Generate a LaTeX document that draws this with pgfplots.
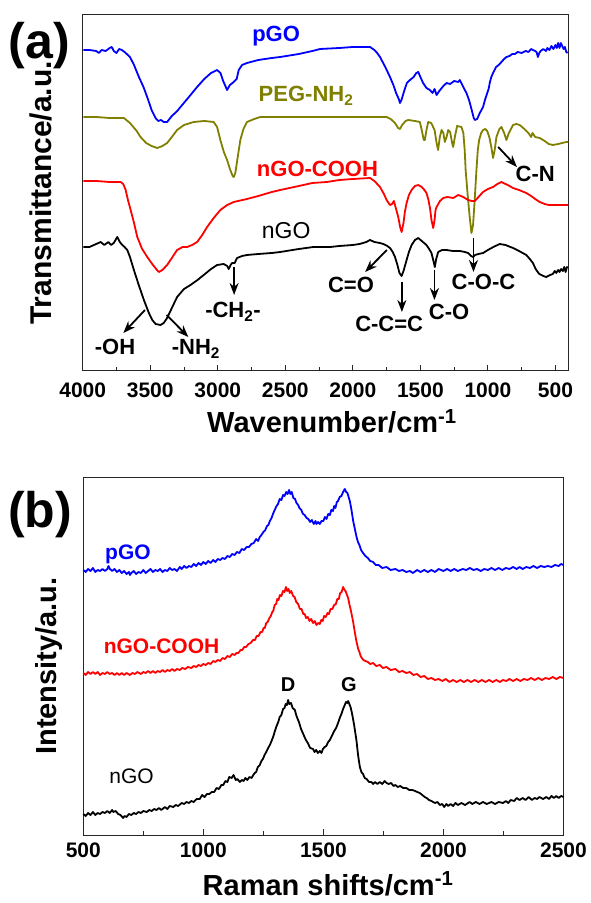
\documentclass[border=0pt]{standalone}
\usepackage{fontspec}
\setmainfont{Liberation Sans}
\usepackage{pgfplots}
\pgfplotsset{compat=1.18}
\usetikzlibrary{arrows.meta}
\definecolor{olv}{RGB}{128,128,0}
\definecolor{myblue}{RGB}{0,0,255}
\definecolor{myred}{RGB}{255,0,0}
\pgfplotsset{
  spec/.style={scale only axis, anchor=south west, ytick=\empty,
    tick align=inside, xtick pos=left, minor x tick num=1,
    major tick length=6pt, minor tick length=4pt,
    axis line style={line width=1pt, black!85},
    tick style={line width=1pt, black!85},
    /pgf/number format/assume math mode=true,
    /pgf/number format/1000 sep={}, scaled x ticks=false,
    clip=false},
  curve/.style={line width=1.8pt, no markers, line join=round}
}
\tikzset{lab/.style={font=\fontsize{22}{22}\selectfont\bfseries},
  arr/.style={line width=1.8pt, -{Stealth[length=12pt,width=9pt]}}}
\begin{document}
\begin{tikzpicture}
\path[use as bounding box] (0pt,0pt) rectangle (590pt,903pt);
% ---------------- top panel (FTIR) ----------------
\begin{axis}[spec, at={(82.7pt,532pt)}, width=485.6pt, height=356.3pt,
  x dir=reverse, xmin=405, xmax=4000, ymin=24, ymax=380.3,
  xtick={500,1000,...,4000},
  xticklabel style={font=\fontsize{21}{21}\selectfont\bfseries, anchor=base, yshift=-27pt}]
\addplot[curve, myblue] coordinates {
(3995,345)(3950,345)(3900,344)(3880,342)(3860,345)(3830,344)(3800,347)(3785,348)(3770,344)(3750,342)(3730,346)(3710,345)(3690,343)(3650,338)(3620,330)(3584,318)(3550,308)(3520,297)(3490,285)(3461,277)(3440,274)(3420,275)(3400,273)(3375,273)(3340,279)(3300,284)(3276,288)(3220,297)(3153,308)(3100,316)(3050,322)(3005,325)(2980,322)(2960,314)(2931,305)(2910,310)(2882,313)(2860,316)(2845,325)(2820,330)(2784,332)(2700,335)(2600,337)(2538,338)(2400,341)(2300,344)(2242,346)(2100,347)(2000,348)(1900,348)(1873,348)(1840,345)(1820,342)(1799,338)(1760,328)(1725,318)(1700,310)(1680,302)(1660,296)(1651,292)(1640,295)(1620,304)(1600,312)(1577,315)(1550,318)(1530,322)(1516,323)(1500,318)(1480,312)(1455,307)(1430,305)(1410,302)(1395,306)(1380,300)(1360,304)(1330,309)(1306,312)(1280,311)(1250,314)(1220,313)(1208,315)(1190,310)(1175,306)(1159,302)(1140,295)(1120,285)(1105,277)(1097,275)(1080,276)(1060,282)(1036,288)(1020,296)(1010,300)(995,306)(985,313)(975,318)(962,322)(940,328)(920,330)(900,333)(880,336)(863,338)(840,339)(820,341)(800,341)(780,343)(750,342)(720,344)(700,343)(680,346)(667,345)(650,344)(640,343)(630,338)(620,342)(610,344)(590,346)(570,344)(560,347)(545,345)(530,349)(515,346)(500,350)(490,347)(480,352)(470,347)(460,352)(450,349)(440,346)(430,348)(420,343)(410,342)};
\addplot[curve, olv] coordinates {
(3995,278)(3900,278)(3800,277)(3695,277)(3650,272)(3600,264)(3572,258)(3530,252)(3490,249)(3448,247)(3410,249)(3375,252)(3340,258)(3301,265)(3250,270)(3178,273)(3100,274)(3030,273)(3005,268)(2981,255)(2955,243)(2931,235)(2910,226)(2890,219)(2882,218)(2870,222)(2850,240)(2833,255)(2810,266)(2784,273)(2730,276)(2685,278)(2500,278)(2242,278)(2000,278)(1800,278)(1750,278)(1720,276)(1688,272)(1665,267)(1651,266)(1635,270)(1610,274)(1590,275)(1540,274)(1504,273)(1490,265)(1475,255)(1467,255)(1455,265)(1442,273)(1420,272)(1395,265)(1380,252)(1369,245)(1356,258)(1343,265)(1330,262)(1319,253)(1306,258)(1294,265)(1280,263)(1265,252)(1257,248)(1245,258)(1228,269)(1196,268)(1182,262)(1172,245)(1165,225)(1150,200)(1135,178)(1122,162)(1110,170)(1098,195)(1085,225)(1075,245)(1065,255)(1050,262)(1036,265)(1020,266)(1005,264)(990,258)(975,248)(962,237)(950,245)(937,258)(915,266)(900,268)(880,262)(863,255)(845,262)(814,270)(790,271)(765,270)(730,266)(700,262)(680,258)(670,262)(650,258)(617,257)(580,254)(550,251)(519,250)(480,251)(450,252)(420,253)(405,253)};
\addplot[curve, myred] coordinates {
(3995,214)(3900,214)(3800,213)(3719,213)(3700,211)(3682,205)(3665,195)(3645,185)(3620,172)(3596,158)(3560,146)(3522,138)(3480,130)(3450,125)(3436,123)(3410,125)(3375,130)(3340,137)(3301,145)(3260,148)(3227,148)(3190,150)(3153,153)(3115,160)(3079,168)(3030,177)(2981,185)(2930,190)(2882,193)(2784,196)(2700,199)(2600,203)(2538,205)(2400,209)(2300,212)(2193,213)(2100,215)(2000,216)(1873,217)(1840,214)(1799,208)(1770,201)(1750,195)(1725,190)(1710,191)(1696,194)(1680,186)(1664,178)(1650,168)(1639,163)(1625,172)(1615,183)(1602,192)(1585,200)(1565,205)(1540,209)(1516,210)(1490,208)(1470,205)(1455,202)(1440,195)(1428,186)(1418,175)(1405,167)(1395,175)(1388,185)(1380,188)(1355,194)(1331,197)(1300,198)(1257,197)(1220,200)(1200,199)(1183,198)(1147,195)(1120,194)(1097,194)(1070,198)(1036,203)(1000,206)(962,208)(930,211)(900,213)(870,211)(840,209)(814,207)(770,205)(716,202)(680,199)(650,196)(617,193)(580,191)(550,190)(519,190)(480,190)(440,190)(405,190)};
\addplot[curve, black] coordinates {
(3995,148)(3950,148)(3900,151)(3867,153)(3840,150)(3810,153)(3790,150)(3770,152)(3744,158)(3725,153)(3707,150)(3690,148)(3670,145)(3650,138)(3621,125)(3585,110)(3547,95)(3510,82)(3485,75)(3460,71)(3424,70)(3400,72)(3375,77)(3340,87)(3301,98)(3250,106)(3202,110)(3150,115)(3104,120)(3050,126)(3005,130)(2956,131)(2930,129)(2919,126)(2905,130)(2894,132)(2875,132)(2857,137)(2820,139)(2784,140)(2700,141)(2600,142)(2538,143)(2400,146)(2292,148)(2168,148)(2100,149)(2000,150)(1950,151)(1900,153)(1873,155)(1840,153)(1800,152)(1775,151)(1745,149)(1725,147)(1705,143)(1688,138)(1670,130)(1655,122)(1639,119)(1625,124)(1602,135)(1585,143)(1565,150)(1540,155)(1516,157)(1490,154)(1455,150)(1435,146)(1418,142)(1405,135)(1393,128)(1383,136)(1368,143)(1340,145)(1306,145)(1260,144)(1208,144)(1170,143)(1147,142)(1125,139)(1110,138)(1095,140)(1070,141)(1036,142)(1000,145)(960,148)(913,151)(870,150)(814,147)(770,144)(716,140)(690,136)(667,132)(650,127)(642,125)(620,121)(590,119)(568,118)(540,120)(520,121)(505,124)(494,122)(480,125)(470,123)(458,126)(445,124)(435,128)(425,123)(415,128)(408,127)};
% labels
\node[lab, myblue, anchor=base] at (axis cs:2568,353) {pGO};
\node[lab, olv, anchor=base west] at (axis cs:2723,293.3) {PEG-NH\textsubscript{2}};
\node[lab, myred, anchor=base west] at (axis cs:2736,218.3) {nGO-COOH};
\node[font=\fontsize{23}{23}\selectfont, anchor=base] at (axis cs:2494,156) {nGO};
% annotations
\node[lab, anchor=base] at (axis cs:650,213.3) {C-N};
\draw[arr] (axis cs:924,248) -- (axis cs:785,228);
\node[lab, anchor=base] at (axis cs:2014,102) {C=O};
\draw[arr] (axis cs:1748,145) -- (axis cs:1909,123);
\node[lab, anchor=base] at (axis cs:1731,63.3) {C-C=C};
\draw[arr] (axis cs:1637,113) -- (axis cs:1637,83);
\node[lab, anchor=base] at (axis cs:1287,75) {C-O};
\draw[arr] (axis cs:1396,125) -- (axis cs:1396,95);
\node[lab, anchor=base] at (axis cs:1033,105) {C-O-C};
\draw[arr] (axis cs:1107,157) -- (axis cs:1107,123);
\node[lab, anchor=base] at (axis cs:2887,77) {-CH\textsubscript{2}-};
\draw[arr] (axis cs:2879,128) -- (axis cs:2879,100);
\node[lab, anchor=base] at (axis cs:3761,40) {-OH};
\draw[arr] (axis cs:3539,85) -- (axis cs:3699,62);
\node[lab, anchor=base west] at (axis cs:3366,40) {-NH\textsubscript{2}};
\draw[arr] (axis cs:3378,80) -- (axis cs:3218,58);
\end{axis}
% ---------------- bottom panel (Raman) ----------------
\begin{axis}[spec, at={(83.3pt,68pt)}, width=480.2pt, height=357.7pt,
  xmin=500, xmax=2500, ymin=0, ymax=357.7,
  xtick={500,1000,1500,2000,2500},
  xticklabel style={font=\fontsize{21}{21}\selectfont\bfseries, anchor=base, yshift=-22pt}]
\addplot[curve, myblue] coordinates {
(500,265)(510,263)(520,266)(530,264)(540,267)(550,263)(560,265)(570,264)(580,266)(590,264)(600,266)(605,269)(611,266)(620,264)(630,266)(640,263)(650,265)(660,262)(670,264)(680,261)(690,263)(694,260)(700,262)(710,264)(720,261)(730,263)(740,262)(750,265)(760,262)(770,264)(780,266)(790,263)(800,265)(810,264)(820,266)(830,263)(840,265)(850,264)(860,267)(870,265)(880,266)(890,264)(902,268)(910,266)(920,269)(930,267)(940,269)(950,268)(960,271)(970,269)(980,272)(990,270)(1000,273)(1010,271)(1020,274)(1030,272)(1041,275)(1050,273)(1060,276)(1070,275)(1080,277)(1090,276)(1100,279)(1110,278)(1120,281)(1130,280)(1140,283)(1150,282)(1160,286)(1170,285)(1180,288)(1190,288)(1200,291)(1210,292)(1220,296)(1228,294)(1235,298)(1242,300)(1250,303)(1258,305)(1265,309)(1271,310)(1277,314)(1284,317)(1290,321)(1297,325)(1305,329)(1311,331)(1318,336)(1325,335)(1332,340)(1338,339)(1345,343)(1351,341)(1357,345)(1362,341)(1368,343)(1375,337)(1382,336)(1388,332)(1395,330)(1400,327)(1408,325)(1415,321)(1422,320)(1430,317)(1437,316)(1445,313)(1452,315)(1460,311)(1467,314)(1471,311)(1478,313)(1485,311)(1492,314)(1500,314)(1506,318)(1513,316)(1520,321)(1527,320)(1533,325)(1540,324)(1545,329)(1550,327)(1556,333)(1561,334)(1568,338)(1575,339)(1582,343)(1589,346)(1595,343)(1600,342)(1605,338)(1610,334)(1617,325)(1624,314)(1632,305)(1638,298)(1644,293)(1650,290)(1657,285)(1665,282)(1675,279)(1685,277)(1695,274)(1707,273)(1718,270)(1730,270)(1745,267)(1763,268)(1780,265)(1800,266)(1815,264)(1830,265)(1845,263)(1860,264)(1873,262)(1890,265)(1905,263)(1920,265)(1935,263)(1950,265)(1965,263)(1980,266)(2000,264)(2015,266)(2030,264)(2045,266)(2060,264)(2080,266)(2095,265)(2110,267)(2125,265)(2140,266)(2155,264)(2170,266)(2185,265)(2200,267)(2215,265)(2230,267)(2245,265)(2260,267)(2275,266)(2290,268)(2305,266)(2317,268)(2330,266)(2345,268)(2360,267)(2375,269)(2390,267)(2405,269)(2420,268)(2435,269)(2450,268)(2465,270)(2480,269)(2490,271)(2500,270)};
\addplot[curve, myred] coordinates {
(500,162)(510,160)(520,163)(530,161)(540,163)(550,161)(560,163)(570,160)(580,162)(590,161)(600,163)(610,161)(620,162)(630,160)(640,162)(650,160)(660,162)(670,160)(680,162)(694,160)(705,162)(715,161)(725,163)(740,161)(750,163)(760,162)(770,164)(780,162)(790,164)(800,162)(810,164)(820,163)(830,165)(840,163)(850,165)(860,164)(870,166)(880,164)(890,166)(902,165)(912,167)(925,166)(935,168)(950,167)(960,169)(970,168)(980,170)(990,169)(1000,171)(1010,170)(1020,172)(1030,171)(1041,174)(1050,173)(1060,175)(1070,174)(1080,177)(1090,176)(1100,179)(1110,178)(1120,181)(1130,180)(1138,182)(1146,182)(1155,185)(1162,185)(1170,188)(1178,188)(1188,191)(1197,192)(1207,195)(1215,195)(1222,199)(1230,199)(1238,203)(1245,203)(1251,207)(1256,207)(1262,212)(1268,213)(1275,217)(1281,219)(1287,223)(1291,224)(1297,230)(1303,231)(1308,236)(1313,235)(1319,240)(1325,239)(1332,244)(1338,243)(1344,248)(1349,244)(1355,246)(1360,242)(1366,244)(1374,239)(1380,238)(1387,233)(1395,231)(1402,226)(1409,226)(1416,221)(1422,221)(1428,217)(1435,218)(1442,214)(1449,216)(1457,212)(1464,214)(1471,210)(1478,212)(1485,211)(1491,215)(1497,214)(1503,219)(1510,218)(1517,222)(1523,221)(1530,226)(1537,226)(1545,230)(1552,231)(1558,236)(1564,236)(1570,242)(1576,243)(1582,248)(1588,245)(1592,244)(1597,241)(1603,237)(1609,230)(1614,225)(1619,219)(1624,213)(1630,204)(1635,197)(1640,191)(1645,186)(1650,183)(1655,179)(1660,177)(1667,175)(1675,174)(1685,173)(1695,171)(1707,172)(1720,169)(1735,170)(1748,167)(1763,168)(1780,165)(1800,166)(1815,163)(1830,164)(1845,162)(1860,163)(1875,160)(1890,161)(1905,158)(1920,159)(1935,156)(1950,157)(1965,155)(1980,156)(1995,154)(2010,156)(2025,153)(2040,155)(2055,153)(2070,155)(2085,153)(2100,155)(2115,153)(2130,155)(2145,153)(2160,155)(2175,153)(2190,155)(2205,153)(2220,155)(2235,153)(2248,155)(2262,154)(2275,156)(2290,154)(2305,156)(2320,154)(2335,156)(2350,155)(2365,157)(2380,155)(2395,157)(2410,155)(2425,157)(2440,156)(2455,158)(2470,156)(2485,158)(2500,157)};
\addplot[curve, black] coordinates {
(500,21)(510,19)(520,22)(530,20)(540,23)(550,20)(560,22)(570,21)(580,23)(590,22)(600,24)(610,22)(620,25)(625,23)(635,24)(645,21)(655,20)(666,17)(672,19)(680,18)(690,21)(700,20)(710,22)(720,21)(730,23)(740,22)(750,24)(764,23)(775,25)(785,24)(795,26)(805,25)(815,27)(825,25)(840,28)(850,26)(860,29)(875,28)(885,30)(895,29)(910,32)(920,31)(930,33)(940,32)(950,34)(960,33)(972,36)(985,36)(995,40)(1005,38)(1015,41)(1025,41)(1035,43)(1045,43)(1055,47)(1065,46)(1075,50)(1083,50)(1092,54)(1100,53)(1108,58)(1118,57)(1126,60)(1135,55)(1142,56)(1152,53)(1160,55)(1168,54)(1175,57)(1183,55)(1192,58)(1201,57)(1208,60)(1214,62)(1220,63)(1227,68)(1235,70)(1242,74)(1248,76)(1255,80)(1262,83)(1270,87)(1277,90)(1284,94)(1292,99)(1298,104)(1305,109)(1312,113)(1318,118)(1325,120)(1332,126)(1338,127)(1343,131)(1348,130)(1353,135)(1358,131)(1365,132)(1372,127)(1381,125)(1388,119)(1398,113)(1407,106)(1416,101)(1425,96)(1435,92)(1445,87)(1457,86)(1463,83)(1470,85)(1477,82)(1485,84)(1492,82)(1498,86)(1505,88)(1512,89)(1520,93)(1527,95)(1535,99)(1545,104)(1553,107)(1561,112)(1568,117)(1575,121)(1582,126)(1589,130)(1594,133)(1599,132)(1603,134)(1608,131)(1613,128)(1617,124)(1622,118)(1628,110)(1633,102)(1638,94)(1642,85)(1645,79)(1648,74)(1652,68)(1658,63)(1665,61)(1672,57)(1680,56)(1690,53)(1700,53)(1707,51)(1715,53)(1725,51)(1735,53)(1745,51)(1755,54)(1763,52)(1772,51)(1782,52)(1792,49)(1800,50)(1810,48)(1820,49)(1832,47)(1845,47)(1858,45)(1870,45)(1882,44)(1891,43)(1901,42)(1912,40)(1922,38)(1930,37)(1940,35)(1950,34)(1957,33)(1965,32)(1975,33)(1985,30)(1995,31)(2003,28)(2012,31)(2020,29)(2030,31)(2040,29)(2050,32)(2060,30)(2075,32)(2090,30)(2109,33)(2120,31)(2135,33)(2150,31)(2165,33)(2180,31)(2200,33)(2215,31)(2230,33)(2248,32)(2260,34)(2270,32)(2280,35)(2295,34)(2305,37)(2317,35)(2330,37)(2342,35)(2355,38)(2368,35)(2380,37)(2390,36)(2400,38)(2415,36)(2428,38)(2440,36)(2450,39)(2460,37)(2470,39)(2480,37)(2490,39)(2500,38)};
\node[font=\fontsize{21}{21}\selectfont\bfseries, myblue, anchor=base] at (axis cs:686,275) {pGO};
\node[font=\fontsize{21}{21}\selectfont\bfseries, myred, anchor=base] at (axis cs:826,181.7) {nGO-COOH};
\node[font=\fontsize{21}{21}\selectfont, anchor=base] at (axis cs:701,52) {nGO};
\node[font=\fontsize{20}{20}\selectfont\bfseries, anchor=base] at (axis cs:1353,143) {D};
\node[font=\fontsize{20}{20}\selectfont\bfseries, anchor=base] at (axis cs:1606,143) {G};
\end{axis}
% ---------------- outer labels ----------------
\node[font=\fontsize{50}{50}\selectfont\bfseries] at (39.3pt,857.3pt) {(a)};
\node[font=\fontsize{50}{50}\selectfont\bfseries] at (40pt,388.5pt) {(b)};
\node[font=\fontsize{30}{30}\selectfont\bfseries, rotate=90, anchor=base] at (51pt,710pt) {Transmittance/a.u.};
\node[font=\fontsize{29}{29}\selectfont\bfseries, rotate=90, anchor=base] at (57pt,237pt) {Intensity/a.u.};
\node[font=\fontsize{29}{29}\selectfont\bfseries, anchor=base] at (332pt,470pt) {Wavenumber/cm\textsuperscript{-1}};
\node[font=\fontsize{29}{29}\selectfont\bfseries, anchor=base] at (328pt,8pt) {Raman shifts/cm\textsuperscript{-1}};
\end{tikzpicture}
\end{document}
